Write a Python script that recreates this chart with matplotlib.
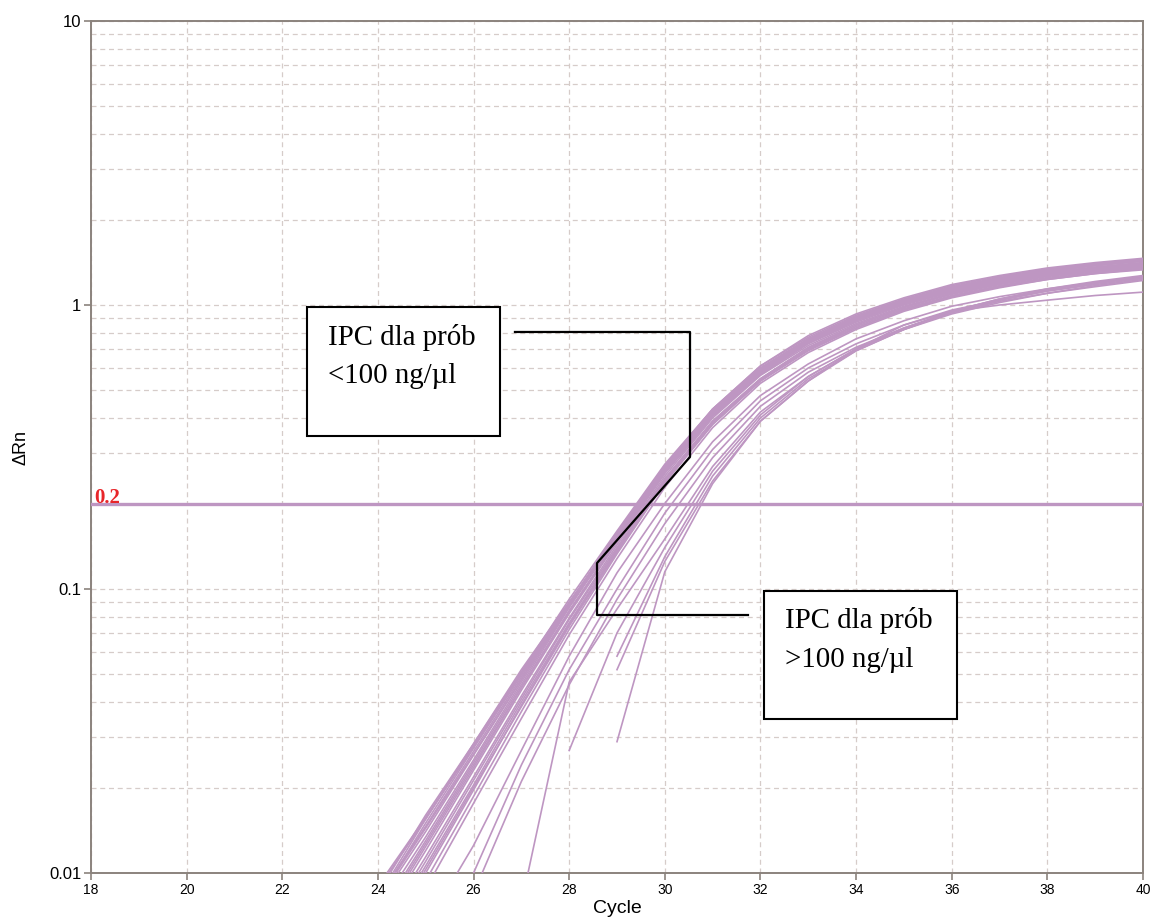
import numpy as np
import matplotlib
matplotlib.use('Agg')
import matplotlib.pyplot as plt
from matplotlib.patches import Rectangle
from matplotlib.ticker import LogLocator, FixedLocator, NullFormatter

# ─────────────────────────────────────────────
# DATA
# ─────────────────────────────────────────────

cycles = [24, 25, 26, 27, 28, 29, 30, 31, 32, 33, 34, 35, 36, 37, 38, 39, 40]
nan = np.nan

# główna wiązka krzywych IPC (próbki <100 ng/µl)
main_curves = [
    [0.0066, 0.0124, 0.0235, 0.045, 0.084, 0.148, 0.258, 0.41, 0.58, 0.75, 0.89, 1.02, 1.14, 1.23, 1.31, 1.38, 1.43],
    [0.0078, 0.0140, 0.0260, 0.048, 0.089, 0.158, 0.272, 0.43, 0.61, 0.77, 0.92, 1.05, 1.17, 1.26, 1.34, 1.40, 1.45],
    [0.0058, 0.0110, 0.0212, 0.041, 0.078, 0.140, 0.245, 0.39, 0.55, 0.71, 0.85, 0.98, 1.10, 1.19, 1.27, 1.33, 1.38],
    [0.0088, 0.0155, 0.0280, 0.051, 0.092, 0.160, 0.275, 0.43, 0.60, 0.76, 0.91, 1.04, 1.16, 1.25, 1.33, 1.39, 1.44],
    [0.0070, 0.0130, 0.0245, 0.046, 0.086, 0.152, 0.262, 0.415, 0.585, 0.745, 0.89, 1.02, 1.13, 1.22, 1.30, 1.36, 1.41],
    [0.0052, 0.0100, 0.0196, 0.039, 0.075, 0.136, 0.240, 0.385, 0.545, 0.70, 0.84, 0.97, 1.08, 1.17, 1.25, 1.31, 1.36],
    [0.0080, 0.0150, 0.0275, 0.050, 0.089, 0.153, 0.262, 0.415, 0.59, 0.75, 0.90, 1.03, 1.15, 1.24, 1.32, 1.38, 1.43],
    [0.0074, 0.0134, 0.0250, 0.047, 0.087, 0.154, 0.266, 0.42, 0.59, 0.755, 0.90, 1.03, 1.15, 1.24, 1.32, 1.38, 1.44],
    [0.0056, 0.0106, 0.0204, 0.040, 0.076, 0.138, 0.243, 0.39, 0.55, 0.705, 0.85, 0.98, 1.09, 1.18, 1.26, 1.32, 1.37],
    [0.0082, 0.0146, 0.0268, 0.049, 0.089, 0.157, 0.270, 0.425, 0.60, 0.76, 0.91, 1.04, 1.15, 1.24, 1.32, 1.38, 1.43],
    [0.0064, 0.0120, 0.0230, 0.044, 0.082, 0.146, 0.255, 0.405, 0.57, 0.73, 0.87, 1.00, 1.11, 1.20, 1.28, 1.34, 1.39],
    [0.0085, 0.0160, 0.0285, 0.051, 0.088, 0.150, 0.258, 0.41, 0.58, 0.74, 0.88, 1.01, 1.12, 1.21, 1.29, 1.35, 1.40],
    [0.0048, 0.0094, 0.0186, 0.037, 0.072, 0.133, 0.236, 0.38, 0.54, 0.695, 0.83, 0.96, 1.07, 1.16, 1.24, 1.30, 1.35],
    [0.0080, 0.0144, 0.0262, 0.048, 0.088, 0.156, 0.270, 0.43, 0.61, 0.78, 0.93, 1.06, 1.18, 1.27, 1.35, 1.41, 1.46],
    [0.0061, 0.0114, 0.0218, 0.042, 0.079, 0.143, 0.250, 0.40, 0.565, 0.72, 0.86, 0.99, 1.10, 1.19, 1.27, 1.33, 1.38],
    [0.0090, 0.0157, 0.0278, 0.050, 0.089, 0.156, 0.268, 0.42, 0.595, 0.755, 0.90, 1.03, 1.15, 1.24, 1.32, 1.38, 1.43],
    [0.0044, 0.0088, 0.0176, 0.035, 0.069, 0.128, 0.228, 0.37, 0.53, 0.68, 0.82, 0.95, 1.06, 1.15, 1.23, 1.29, 1.33],
    [0.0082, 0.0155, 0.0285, 0.052, 0.090, 0.155, 0.265, 0.42, 0.59, 0.75, 0.89, 1.02, 1.13, 1.22, 1.30, 1.36, 1.41],
    [0.0068, 0.0127, 0.0240, 0.045, 0.083, 0.149, 0.258, 0.41, 0.575, 0.735, 0.88, 1.01, 1.12, 1.21, 1.29, 1.35, 1.40],
    [0.0054, 0.0103, 0.0200, 0.0385, 0.074, 0.135, 0.238, 0.38, 0.54, 0.69, 0.83, 0.96, 1.07, 1.16, 1.23, 1.29, 1.34],
]

# późniejsze krzywe IPC (próbki >100 ng/µl)
late_curves = [
    [0.0040, 0.0065, 0.0125, 0.027, 0.058, 0.114, 0.200, 0.33, 0.48, 0.62, 0.76, 0.88, 0.99, 1.07, 1.14, 1.20, 1.25],
    [nan, 0.0050, 0.0100, 0.024, 0.052, 0.100, 0.185, 0.31, 0.46, 0.60, 0.73, 0.85, 0.96, 1.04, 1.12, 1.18, 1.24],
    [nan, 0.0040, 0.0085, 0.021, 0.046, 0.092, 0.170, 0.29, 0.44, 0.58, 0.71, 0.83, 0.94, 1.03, 1.10, 1.16, 1.22],
    [nan, nan, nan, 0.0078, 0.047, 0.085, 0.150, 0.27, 0.42, 0.56, 0.70, 0.82, 0.93, 1.02, 1.10, 1.17, 1.23],
    [nan, nan, nan, nan, 0.027, 0.070, 0.140, 0.26, 0.41, 0.56, 0.70, 0.83, 0.95, 1.05, 1.13, 1.20, 1.26],
    [nan, nan, nan, nan, nan, 0.058, 0.130, 0.25, 0.40, 0.55, 0.69, 0.82, 0.94, 1.04, 1.12, 1.19, 1.25],
    [nan, nan, nan, nan, nan, 0.052, 0.125, 0.24, 0.39, 0.54, 0.69, 0.82, 0.95, 1.05, 1.14, 1.21, 1.27],
    [nan, nan, nan, nan, nan, 0.029, 0.115, 0.235, 0.39, 0.54, 0.70, 0.85, 0.95, 1.00, 1.04, 1.08, 1.11],
]

threshold = 0.2

# ─────────────────────────────────────────────
# STYL
# ─────────────────────────────────────────────

CURVE_COLOR = '#be96c2'
SPINE_COLOR = '#8b837d'
GRID_COLOR = '#d6ccc9'

plt.rcParams['font.family'] = ['Liberation Sans', 'DejaVu Sans']

fig = plt.figure(figsize=(11.52, 9.22), dpi=100)
ax = fig.add_axes([91 / 1152, 49 / 922, 1052 / 1152, 852 / 922])

for curve in main_curves + late_curves:
    ax.plot(cycles, curve, color=CURVE_COLOR, lw=1.2, zorder=3)

ax.axhline(threshold, color=CURVE_COLOR, lw=2.4, zorder=4)
ax.text(0.003, threshold * 1.008, '0.2', transform=ax.get_yaxis_transform(),
        color='#e8262a', fontsize=15, fontweight='bold', family='Liberation Serif',
        va='baseline', ha='left', zorder=5)

ax.set_yscale('log')
ax.set_xlim(18, 40)
ax.set_ylim(0.01, 10)

ax.xaxis.set_major_locator(FixedLocator(np.arange(18, 41, 2)))
ax.yaxis.set_major_locator(FixedLocator([0.01, 0.1, 1, 10]))
ax.set_yticklabels(['0.01', '0.1', '1', '10'])
ax.yaxis.set_minor_locator(LogLocator(base=10, subs=np.arange(2, 10)))
ax.yaxis.set_minor_formatter(NullFormatter())

ax.grid(True, which='major', axis='x', color=GRID_COLOR, ls=(0, (4, 3)), lw=0.9, zorder=0)
ax.grid(True, which='both', axis='y', color=GRID_COLOR, ls=(0, (4, 3)), lw=0.9, zorder=0)

for sp in ax.spines.values():
    sp.set_color(SPINE_COLOR)
    sp.set_linewidth(1.4)

ax.tick_params(axis='both', which='major', color=SPINE_COLOR, length=5, width=1.2, pad=2)
ax.tick_params(axis='y', which='major', labelsize=12)
ax.tick_params(axis='x', which='major', labelsize=10)
ax.tick_params(axis='y', which='minor', length=0)

ax.set_xlabel('Cycle', fontsize=14, labelpad=2)
ax.set_ylabel('\u0394Rn', fontsize=13, labelpad=14)

# ─────────────────────────────────────────────
# ADNOTACJE
# ─────────────────────────────────────────────

box_kw = dict(transform=ax.transAxes, fill=True, facecolor='white',
              edgecolor='black', lw=1.5, zorder=6, clip_on=False)
ax.add_patch(Rectangle((0.2053, 0.5129), 0.1835, 0.1514, **box_kw))
ax.add_patch(Rectangle((0.6397, 0.1808), 0.1835, 0.1502, **box_kw))

txt_kw = dict(transform=ax.transAxes, family='Liberation Serif', fontsize=20.8,
              va='baseline', ha='left', zorder=7)
ax.text(0.2253, 0.6197, 'IPC dla prób', **txt_kw)
ax.text(0.2253, 0.5751, '<100 ng/µl', **txt_kw)
ax.text(0.6597, 0.2876, 'IPC dla prób', **txt_kw)
ax.text(0.6597, 0.2418, '>100 ng/µl', **txt_kw)

conn_x = [0.4030, 0.5694, 0.5694, 0.4810, 0.4810, 0.6245]
conn_y = [0.6350, 0.6350, 0.4883, 0.3638, 0.3028, 0.3028]
ax.plot(conn_x, conn_y, transform=ax.transAxes, color='black', lw=1.6, zorder=6)

plt.savefig('out.png', dpi=100)
